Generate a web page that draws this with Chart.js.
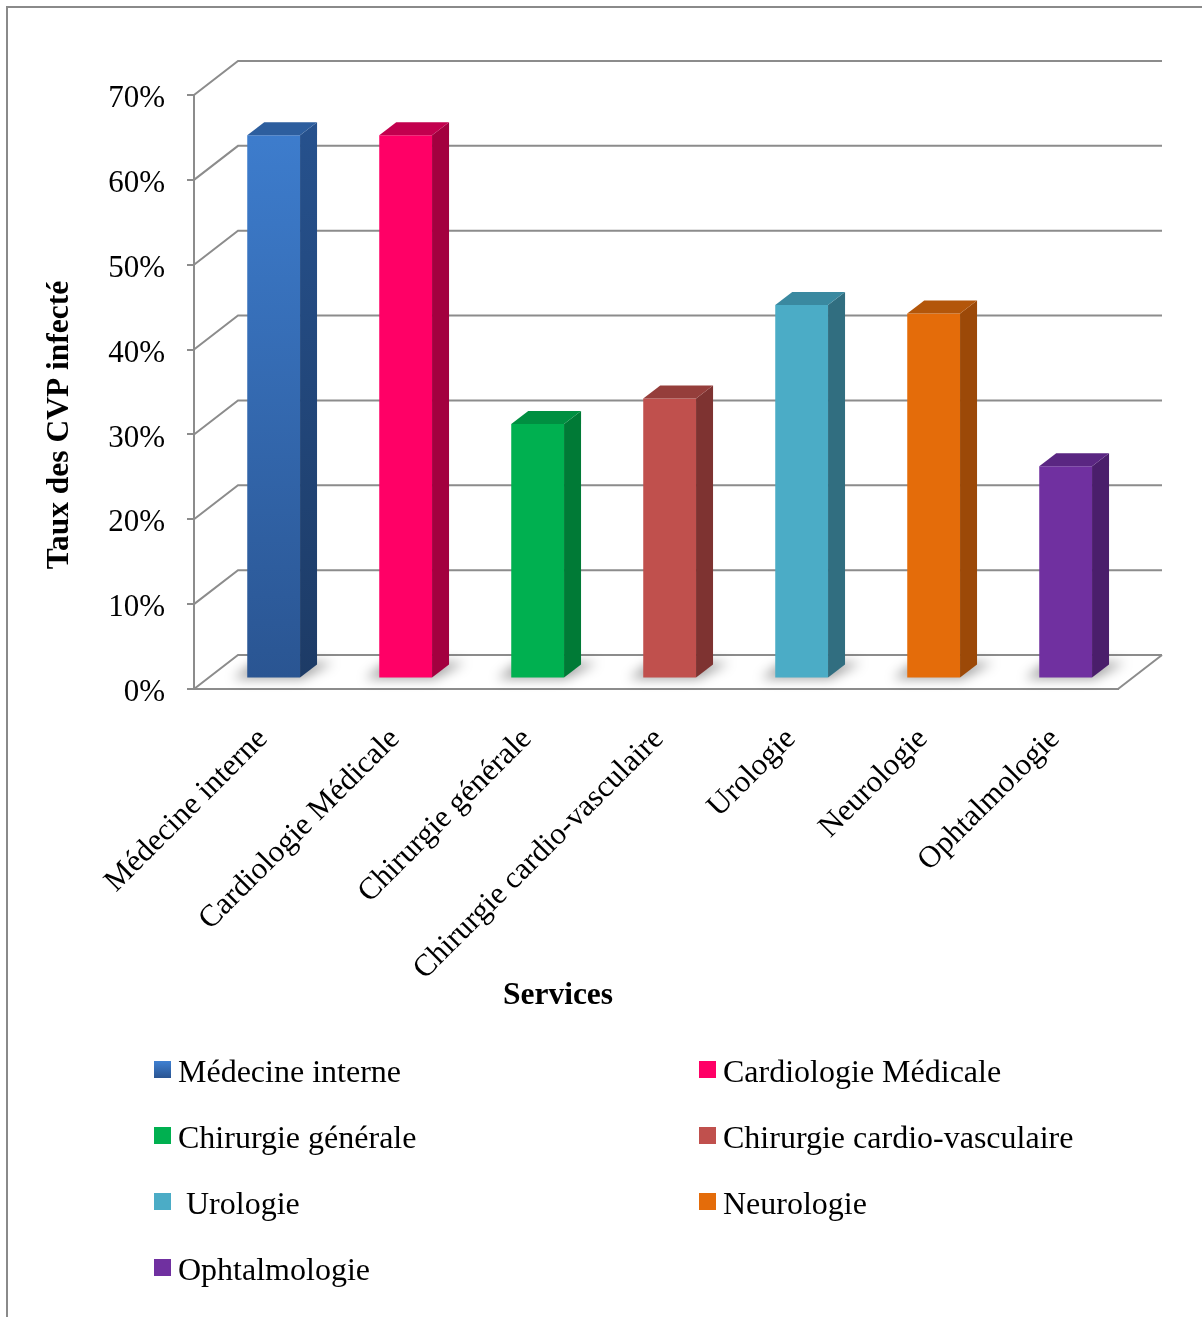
<!DOCTYPE html>
<html>
<head>
<meta charset="utf-8">
<script src="https://cdn.jsdelivr.net/npm/chart.js@4.4.1/dist/chart.umd.min.js"></script>
<style>
  html, body { margin: 0; padding: 0; background: #ffffff; }
  #wrap { position: relative; width: 1202px; height: 1317px; overflow: hidden; }
  #frame { position: absolute; left: 6px; top: 6px; right: -10px; bottom: -10px;
           border-top: 2px solid #8a8a8a; border-left: 2px solid #8a8a8a; pointer-events: none; }
  canvas { position: absolute; left: 0; top: 0; }
</style>
</head>
<body>
<div id="wrap">
  <canvas id="chart" width="1202" height="1317"></canvas>
  <div id="frame"></div>
</div>
<script>
// Services and infected peripheral venous catheter rates
const services = [
  'Médecine interne',
  'Cardiologie Médicale',
  'Chirurgie générale',
  'Chirurgie cardio-vasculaire',
  ' Urologie',
  'Neurologie',
  'Ophtalmologie'
];
const tauxCVPInfecte = [0.64, 0.64, 0.30, 0.33, 0.44, 0.43, 0.25];

const yAxisTitle = 'Taux des CVP infecté';
const xAxisTitle = 'Services';

// Colours of the front, side and top faces of each column
const frontColors = ['#3A77C4', '#FF0066', '#00B050', '#C0504D', '#4BACC6', '#E46C0A', '#7030A0'];
const sideColors  = ['#234B80', '#A3003F', '#007A36', '#7E3331', '#316E80', '#9C4908', '#4A1E6B'];
const topColors   = ['#2D5E9E', '#C2004E', '#008F41', '#953E3B', '#3A89A0', '#B3560A', '#5A2682'];

const FONT = '"Liberation Serif", "Times New Roman", Times, serif';
const GRID = '#8c8c8c';

// Projection of the chart's depth (walls and floor)
const WALL_DX = 44, WALL_DY = -34;
// Columns stand this far into the floor
const BAR_SHIFT = 0.31;
// Depth of each column
const COL_DX = 17, COL_DY = -13;

function medecineFront(ctx, area) {
  const g = ctx.createLinearGradient(0, area.top, 0, area.bottom);
  g.addColorStop(0, '#3F80D2');
  g.addColorStop(1, '#2A5592');
  return g;
}
function medecineSide(ctx, area) {
  const g = ctx.createLinearGradient(0, area.top, 0, area.bottom);
  g.addColorStop(0, '#275390');
  g.addColorStop(1, '#1D3B66');
  return g;
}

const column3d = {
  id: 'column3d',
  beforeDatasetsDraw(chart) {
    const { ctx, chartArea, scales: { y } } = chart;
    const { left, right, bottom } = chartArea;

    // back wall gridlines, folded along the left wall
    ctx.save();
    ctx.strokeStyle = GRID;
    ctx.lineWidth = 2;
    y.ticks.forEach(t => {
      const py = y.getPixelForValue(t.value);
      ctx.beginPath();
      ctx.moveTo(left, py);
      ctx.lineTo(left + WALL_DX, py + WALL_DY);
      ctx.lineTo(right + WALL_DX, py + WALL_DY);
      ctx.stroke();
    });
    // right edge of the floor
    ctx.beginPath();
    ctx.moveTo(right, bottom);
    ctx.lineTo(right + WALL_DX, bottom + WALL_DY);
    ctx.stroke();
    ctx.restore();

    // columns sit in the middle of the floor's depth
    ctx.save();
    ctx.translate(WALL_DX * BAR_SHIFT, WALL_DY * BAR_SHIFT);

    // soft shadows at the foot of the columns
    const meta = chart.getDatasetMeta(0);
    ctx.save();
    ctx.filter = 'blur(6px)';
    ctx.fillStyle = 'rgba(0,0,0,0.38)';
    meta.data.forEach(bar => {
      const x0 = bar.x - bar.width / 2, x1 = bar.x + bar.width / 2, b = bar.base;
      ctx.beginPath();
      ctx.moveTo(x0 - 14, b + 1);
      ctx.lineTo(x1 + 2, b + 1);
      ctx.lineTo(x1 + COL_DX + 16, b + COL_DY - 2);
      ctx.lineTo(x0 + COL_DX - 10, b + COL_DY - 2);
      ctx.closePath();
      ctx.fill();
    });
    ctx.restore();
  },
  afterDatasetsDraw(chart) {
    const { ctx, chartArea } = chart;
    const meta = chart.getDatasetMeta(0);
    meta.data.forEach((bar, i) => {
      const x0 = bar.x - bar.width / 2, x1 = bar.x + bar.width / 2;
      const top = bar.y, b = bar.base;
      // side face
      ctx.fillStyle = i === 0 ? medecineSide(ctx, chartArea) : sideColors[i];
      ctx.beginPath();
      ctx.moveTo(x1, top);
      ctx.lineTo(x1 + COL_DX, top + COL_DY);
      ctx.lineTo(x1 + COL_DX, b + COL_DY);
      ctx.lineTo(x1, b);
      ctx.closePath();
      ctx.fill();
      // top face
      ctx.fillStyle = topColors[i];
      ctx.beginPath();
      ctx.moveTo(x0, top);
      ctx.lineTo(x0 + COL_DX, top + COL_DY);
      ctx.lineTo(x1 + COL_DX, top + COL_DY);
      ctx.lineTo(x1, top);
      ctx.closePath();
      ctx.fill();
    });
    ctx.restore();
  },
  afterDraw(chart) {
    const { ctx } = chart;
    ctx.save();
    ctx.fillStyle = '#000';
    ctx.font = 'bold 31.5px ' + FONT;
    ctx.textAlign = 'center';
    ctx.textBaseline = 'middle';
    // axis titles
    ctx.fillText(xAxisTitle, 558, 996);
    ctx.save();
    ctx.translate(60, 425);
    ctx.rotate(-Math.PI / 2);
    ctx.fillText(yAxisTitle, 0, 0);
    ctx.restore();

    // legend, two columns
    ctx.font = '32px ' + FONT;
    ctx.textAlign = 'left';
    ctx.textBaseline = 'alphabetic';
    services.forEach((name, i) => {
      const col = i % 2, row = Math.floor(i / 2);
      const bx = 154 + col * 545, by = 1061 + row * 66;
      if (i === 0) {
        const g = ctx.createLinearGradient(0, by, 0, by + 17);
        g.addColorStop(0, '#3F80D2');
        g.addColorStop(1, '#2A5592');
        ctx.fillStyle = g;
      } else {
        ctx.fillStyle = frontColors[i];
      }
      ctx.fillRect(bx, by, 17, 17);
      ctx.fillStyle = '#000';
      ctx.fillText(name, bx + 24, by + 21);
    });
    ctx.restore();
  }
};

Chart.defaults.font.family = FONT;
Chart.defaults.color = '#000';

new Chart(document.getElementById('chart'), {
  type: 'bar',
  data: {
    labels: services,
    datasets: [{
      label: yAxisTitle,
      data: tauxCVPInfecte,
      backgroundColor: c => {
        if (c.dataIndex === 0) {
          const area = c.chart.chartArea;
          return area ? medecineFront(c.chart.ctx, area) : frontColors[0];
        }
        return frontColors[c.dataIndex];
      },
      borderWidth: 0,
      barPercentage: 0.4,
      categoryPercentage: 1.0,
      clip: false
    }]
  },
  options: {
    responsive: false,
    animation: false,
    events: [],
    layout: { padding: { left: 0, top: 95, right: 84, bottom: 298 } },
    plugins: {
      legend: { display: false },
      tooltip: { enabled: false }
    },
    scales: {
      x: {
        afterFit: s => { s.height = 330; },
        grid: { display: false, drawTicks: false },
        border: { display: true, color: GRID, width: 2 },
        ticks: {
          font: { size: 31, family: FONT },
          color: '#000',
          minRotation: 45,
          maxRotation: 45,
          autoSkip: false,
          padding: 32,
          labelOffset: 3
        }
      },
      y: {
        min: 0,
        max: 0.7,
        afterFit: s => { s.width = 194; },
        grid: { display: true, drawOnChartArea: false, drawTicks: true, tickLength: 7, color: GRID, lineWidth: 2 },
        border: { display: true, color: GRID, width: 2 },
        ticks: {
          stepSize: 0.1,
          padding: 22,
          labelOffset: 4,
          font: { size: 31, family: FONT },
          color: '#000',
          callback: v => Math.round(v * 100) + '%'
        }
      }
    }
  },
  plugins: [column3d]
});
</script>
</body>
</html>
